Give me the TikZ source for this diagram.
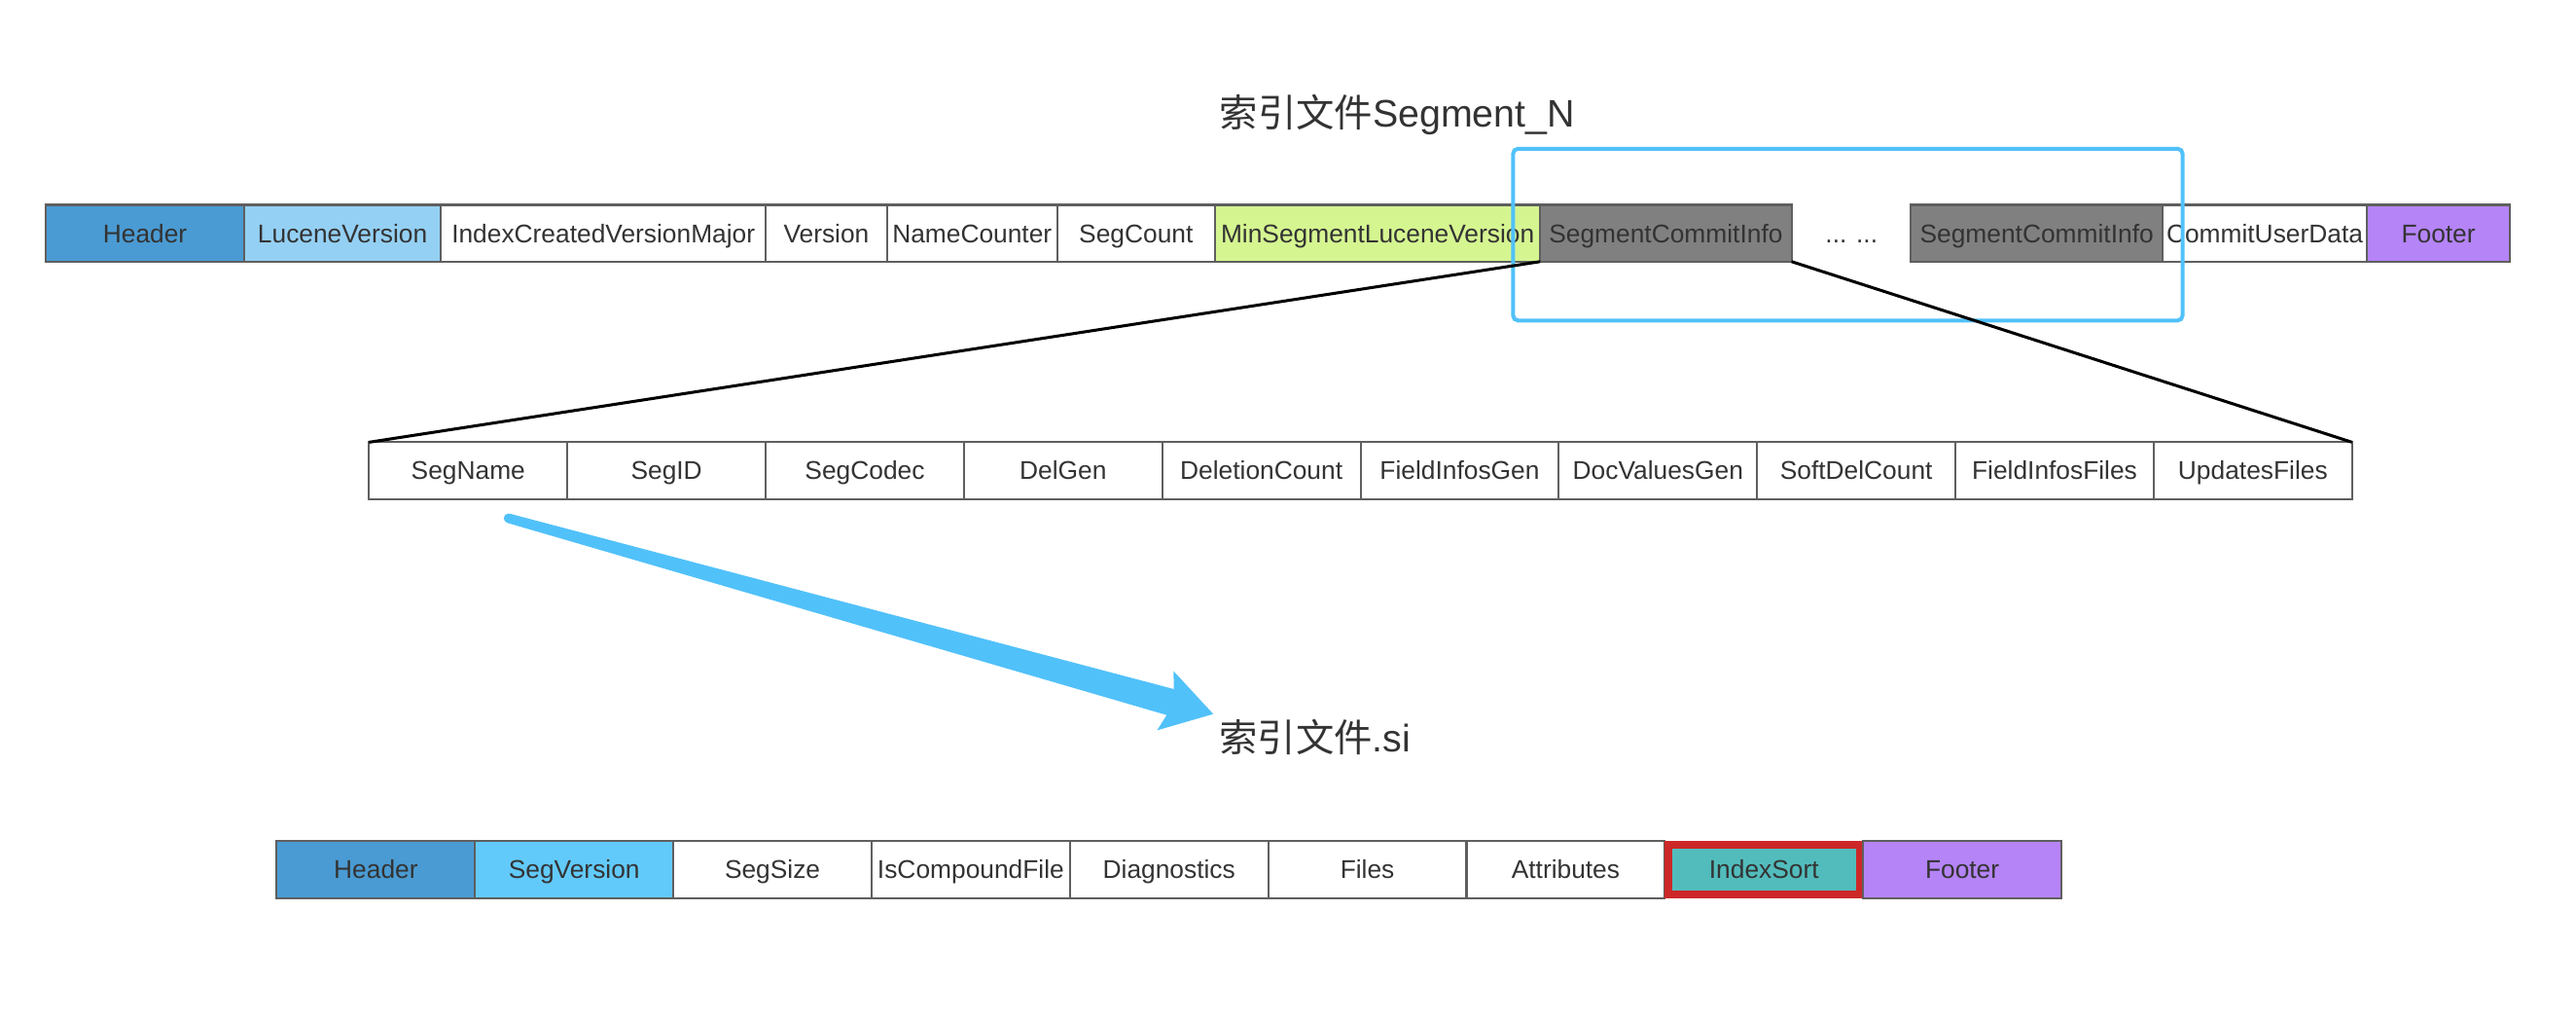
\documentclass[tikz,border=0pt]{standalone}
\usepackage{fontspec}
\setmainfont{Liberation Sans}
\newfontfamily\cjkfont{Noto Sans CJK SC}
\usetikzlibrary{calc}
\definecolor{hdrblue}{RGB}{74,155,211}
\definecolor{lucblue}{RGB}{148,208,243}
\definecolor{segvblue}{RGB}{98,202,250}
\definecolor{mingreen}{RGB}{213,245,145}
\definecolor{cigray}{RGB}{128,128,128}
\definecolor{footpurple}{RGB}{181,132,247}
\definecolor{sortteal}{RGB}{82,188,188}
\definecolor{sortred}{RGB}{204,40,40}
\definecolor{hiliteblue}{RGB}{81,193,250}
\definecolor{cellline}{RGB}{95,95,95}
\definecolor{txtgray}{RGB}{51,51,51}

\begin{document}
\begin{tikzpicture}[x=1pt, y=-1pt,
    every node/.style={font=\fontsize{15.6}{18}\selectfont, text=txtgray},
    cell/.style={draw=cellline, line width=1.2pt, inner sep=0pt, outer sep=0pt,
      minimum height=34.5pt, minimum width=120.7pt, text height=12.6pt, text depth=1.4pt},
    bigtitle/.style={font=\fontsize{23.3}{28}\selectfont, anchor=base, inner sep=0pt}]
    \useasboundingbox (0,0) rectangle (1568,620.5);

    % Segment_N
    \node[bigtitle] (segntitle) at (850.5,77) {{\cjkfont 索引文件}Segment\_N};
    \node[cell, fill=hdrblue, minimum width=120.5pt] (nhdr) at (88.25,141.9) {Header};
    \node[cell, fill=lucblue, minimum width=120pt] (nluc) at (208.5,141.9) {LuceneVersion};
    \node[cell, minimum width=197.5pt] (nicvm) at (367.25,141.9) {IndexCreatedVersionMajor};
    \node[cell, minimum width=74pt] (nver) at (503,141.9) {Version};
    \node[cell, minimum width=103.4pt] (nnamec) at (591.7,141.9) {NameCounter};
    \node[cell, minimum width=96.2pt] (nsegc) at (691.5,141.9) {SegCount};
    \node[cell, fill=mingreen, minimum width=197.9pt] (nminseg) at (838.55,141.9) {MinSegmentLuceneVersion};
    \node[cell, fill=cigray, minimum width=153pt] (nsci) at (1014,141.9) {SegmentCommitInfo};
    \node[anchor=base] (ndots) at (1127,147.5) {... ...};
    \node[cell, fill=cigray, minimum width=153.5pt] (nscilast) at (1239.75,141.9) {SegmentCommitInfo};
    \node[cell, minimum width=124pt] (nuser) at (1378.5,141.9) {CommitUserData};
    \node[cell, fill=footpurple, minimum width=87.5pt] (nftr) at (1484.25,141.9) {Footer};

    \draw[hiliteblue, line width=2.4pt, rounded corners=3pt] (921,90.5) rectangle (1328.5,195);

    % SegmentCommitInfo
    \node[cell, line width=1.1pt] (sname) at (285,286.3) {SegName};
    \node[cell, line width=1.1pt] (sid) at (405.7,286.3) {SegID};
    \node[cell, line width=1.1pt] (scodec) at (526.4,286.3) {SegCodec};
    \node[cell, line width=1.1pt] (sdelgen) at (647.1,286.3) {DelGen};
    \node[cell, line width=1.1pt] (sdelcnt) at (767.8,286.3) {DeletionCount};
    \node[cell, line width=1.1pt] (sfigen) at (888.5,286.3) {FieldInfosGen};
    \node[cell, line width=1.1pt] (sdvgen) at (1009.2,286.3) {DocValuesGen};
    \node[cell, line width=1.1pt] (ssoft) at (1129.9,286.3) {SoftDelCount};
    \node[cell, line width=1.1pt] (sfifiles) at (1250.6,286.3) {FieldInfosFiles};
    \node[cell, line width=1.1pt] (supd) at (1371.3,286.3) {UpdatesFiles};

    \draw[line width=1.8pt] (nsci.south west) -- (sname.north west);
    \draw[line width=1.8pt] (nsci.south east) -- (supd.north east);

    % .si
    \node[bigtitle] (sititle) at (800.5,457.5) {{\cjkfont 索引文件}.si};
    \coordinate (arrtail) at (309.5,315.3);
    \coordinate (arrtip) at (738.5,434.4);
    \fill[hiliteblue] ($(arrtail)!2.9pt!90:(arrtip)$)
        -- ($(arrtail)!0.939!(arrtip)!8.2pt!90:(arrtip)$)
        -- ($(arrtail)!0.932!(arrtip)!18.7pt!90:(arrtip)$)
        -- (arrtip)
        -- ($(arrtail)!0.932!(arrtip)!18.7pt!-90:(arrtip)$)
        -- ($(arrtail)!0.939!(arrtip)!8.2pt!-90:(arrtip)$)
        -- ($(arrtail)!2.9pt!-90:(arrtip)$) -- cycle;
    \fill[hiliteblue] (arrtail) circle (2.9pt);

    \node[cell, fill=hdrblue] (shdr) at (228.8,529.1) {Header};
    \node[cell, fill=segvblue] (sver) at (349.5,529.1) {SegVersion};
    \node[cell] (ssize) at (470.2,529.1) {SegSize};
    \node[cell] (scfs) at (590.9,529.1) {IsCompoundFile};
    \node[cell] (sdiag) at (711.6,529.1) {Diagnostics};
    \node[cell] (sfiles) at (832.3,529.1) {Files};
    \node[cell] (sattr) at (953,529.1) {Attributes};
    \node[cell, fill=sortteal, draw=sortred, line width=4.4pt,
      minimum width=116.3pt, minimum height=30.1pt] (ssort) at (1073.7,529.1) {IndexSort};
    \node[cell, fill=footpurple] (sftr) at (1194.4,529.1) {Footer};
\end{tikzpicture}
\end{document}
